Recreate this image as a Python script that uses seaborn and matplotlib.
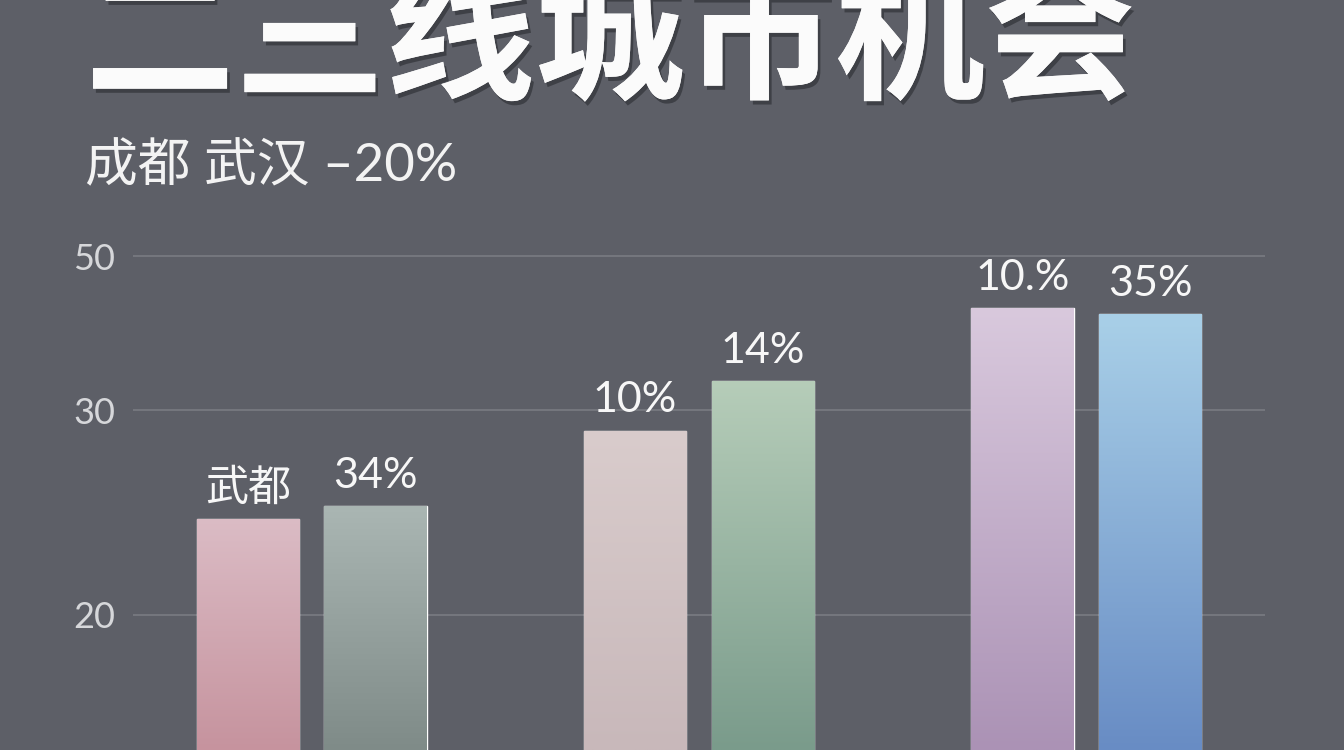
import numpy as np
import pandas as pd
import matplotlib
matplotlib.use('Agg')
import matplotlib.pyplot as plt
import matplotlib.patheffects as pe
from matplotlib.colors import LinearSegmentedColormap
import seaborn as sns

# chart data
groups = ['组一', '组二', '组三']
series = ['系列A', '系列B']
values_a = [24.7, 29.0, 43.2]
values_b = [25.3, 33.8, 42.5]
labels_a = ['武都', '10%', '10.%']
labels_b = ['34%', '14%', '35%']
ytick_values = [20, 30, 50]
title = '二三线城市机会'
subtitle = '成都 武汉 –20%'

# gradient colours per bar (top, bottom), in barplot draw order
top_colors = ['#dbbcc5', '#d9cccc', '#d9c9dd', '#aab6b3', '#b6cdb9', '#a9d0e8']
bottom_colors = ['#c6939e', '#c8b8ba', '#ab92b5', '#7f8b88', '#7a9b8b', '#688cc4']

BG = '#5d5f67'
GRID = '#74767d'
CJK = ['Noto Sans CJK SC', 'DejaVu Sans']
LATIN = ['Lato', 'Noto Sans CJK SC', 'DejaVu Sans']

df = pd.DataFrame({
  'group': groups * 2,
  'series': [series[0]] * 3 + [series[1]] * 3,
  'value': values_a + values_b,
})

# the source axis is piecewise: 20→30 takes more room than 30→50
knot_vals = [0, 20, 30, 50, 80]
knot_pos = [-275, 135, 340, 494, 725]


def _fwd(v):
  return np.interp(v, knot_vals, knot_pos)


def _inv(p):
  return np.interp(p, knot_pos, knot_vals)


sns.set_style('white')
plt.rcParams['font.family'] = CJK

fig = plt.figure(figsize=(13.44, 7.5), dpi=100)
fig.patch.set_facecolor(BG)
ax = fig.add_axes([133 / 1344, 0, (1265 - 133) / 1344, 535 / 750])
ax.set_facecolor(BG)

sns.barplot(
  data=df, x='group', y='value', hue='series', ax=ax,
  width=0.66, gap=0.2, palette=[top_colors[0], top_colors[3]],
  legend=False, zorder=3,
)

ax.set_yscale('function', functions=(_fwd, _inv))
ax.set_ylim(_inv(0), _inv(535))
ax.set_xlim(-0.461, 2.461)

ax.set_yticks(ytick_values)
ax.set_yticklabels([str(v) for v in ytick_values], family=LATIN, fontsize=26,
                   color='#d6d7da')
ax.tick_params(axis='y', length=0, pad=13)
ax.set_xticks([])
ax.set_xlabel('')
ax.set_ylabel('')
ax.yaxis.grid(True, color=GRID, linewidth=1.5)
ax.set_axisbelow(True)
sns.despine(ax=ax, left=True, bottom=True)

fig.canvas.draw()
bars = ax.patches
all_labels = labels_a + labels_b
to_axes = ax.transAxes.inverted()
for i, bar in enumerate(bars):
  x0, w, h = bar.get_x(), bar.get_width(), bar.get_height()
  cmap = LinearSegmentedColormap.from_list('g', [bottom_colors[i], top_colors[i]])
  # gradient from the bar top down to the axes bottom, clipped to the bar
  xa0, top_ax = to_axes.transform(ax.transData.transform((x0, h)))
  xa1, _ = to_axes.transform(ax.transData.transform((x0 + w, h)))
  grad = np.linspace(0, 1, 256).reshape(-1, 1)
  img = ax.imshow(grad, cmap=cmap, aspect='auto', origin='lower',
                  extent=(xa0, xa1, 0, top_ax), transform=ax.transAxes, zorder=4)
  img.set_clip_path(bar)
  ax.annotate(all_labels[i], (x0 + w / 2, h), xytext=(0, 8), textcoords='offset points',
              ha='center', va='bottom', fontsize=31, color='#f7f7f7',
              family=LATIN, annotation_clip=False, zorder=5)

fig.text(85 / 1344, 1 - 44 / 750, title, fontsize=108, fontweight='heavy', color='#fbfbfb',
         ha='left', va='center', family=CJK,
         path_effects=[pe.withSimplePatchShadow(offset=(2, -3), shadow_rgbFace='#2a2c31', alpha=0.6),
                       pe.Normal()])
fig.text(85 / 1344, 1 - 166 / 750, subtitle, fontsize=38, color='#f3f3f3',
         ha='left', va='center', family=LATIN)

fig.savefig('out.png', dpi=100, facecolor=BG)
